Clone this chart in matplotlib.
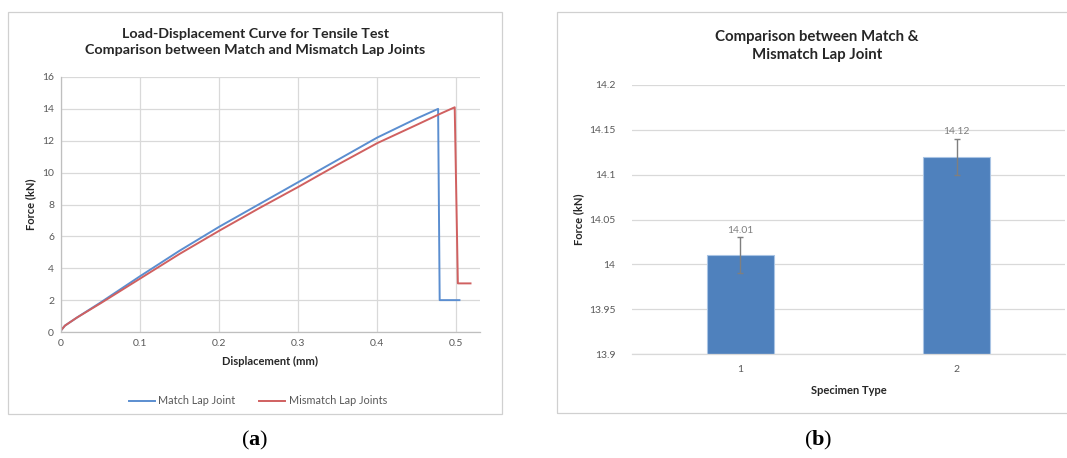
import matplotlib
matplotlib.use("Agg")
import matplotlib.pyplot as plt
from matplotlib.patches import Rectangle

plt.rcParams['font.family'] = ['Lato', 'DejaVu Sans']
plt.rcParams['mathtext.fontset'] = 'custom'
plt.rcParams['mathtext.bf'] = 'Liberation Serif:bold'
plt.rcParams['mathtext.rm'] = 'Liberation Serif'

# ---- Data (a) ----
match_x = [0, 0.005, 0.02, 0.05, 0.1, 0.15, 0.2, 0.25, 0.3, 0.35, 0.4, 0.45, 0.477, 0.479, 0.504]
match_y = [0.1, 0.4, 0.9, 1.85, 3.5, 5.1, 6.6, 8.0, 9.4, 10.8, 12.2, 13.4, 14.0, 2.0, 2.0]
mis_x = [0, 0.005, 0.02, 0.05, 0.1, 0.15, 0.2, 0.25, 0.3, 0.35, 0.4, 0.45, 0.48, 0.498, 0.502, 0.518]
mis_y = [0.1, 0.4, 0.9, 1.8, 3.35, 4.9, 6.35, 7.75, 9.1, 10.5, 11.85, 13.0, 13.7, 14.1, 3.05, 3.05]
xticks_a = [0, 0.1, 0.2, 0.3, 0.4, 0.5]
xticklabels_a = ['0', '0.1', '0.2', '0.3', '0.4', '0.5']
yticks_a = [0, 2, 4, 6, 8, 10, 12, 14, 16]

# ---- Data (b) ----
specimens = ['1', '2']
forces = [14.01, 14.12]
errors = [0.02, 0.02]
value_labels = ['14.01', '14.12']
yticks_b = [13.9, 13.95, 14.0, 14.05, 14.1, 14.15, 14.2]
yticklabels_b = ['13.9', '13.95', '14', '14.05', '14.1', '14.15', '14.2']

W, H = 1067, 458
fig = plt.figure(figsize=(W / 100, H / 100), dpi=100)

def fx(px):
    return px / W

def fy(py):
    return 1 - py / H

grid_c = '#D9D9D9'
text_c = '#595959'
blue_line = '#5B8ED0'
red_line = '#D06060'
bar_c = '#4F81BD'

# panel borders
fig.patches.append(Rectangle((fx(8), fy(414)), fx(502 - 8), (414 - 12) / H,
                             transform=fig.transFigure, fill=False,
                             edgecolor='#D0D0D0', linewidth=0.9))
fig.patches.append(Rectangle((fx(557), fy(413)), fx(1075 - 557), (413 - 12) / H,
                             transform=fig.transFigure, fill=False,
                             edgecolor='#D0D0D0', linewidth=0.9))

# ---- Panel (a) ----
ax1 = fig.add_axes([fx(61), fy(332), fx(480 - 61), (332 - 77) / H])
ax1.plot(match_x, match_y, color=blue_line, lw=1.4, label='Match Lap Joint')
ax1.plot(mis_x, mis_y, color=red_line, lw=1.4, label='Mismatch Lap Joints')
ax1.set_xlim(0, 0.53)
ax1.set_ylim(0, 16)
ax1.set_xticks(xticks_a)
ax1.set_xticklabels(xticklabels_a)
ax1.set_yticks(yticks_a)
ax1.grid(True, color=grid_c, lw=0.9)
ax1.set_axisbelow(True)
for s in ['top', 'right']:
    ax1.spines[s].set_visible(False)
for s in ['left', 'bottom']:
    ax1.spines[s].set_color('#BFBFBF')
    ax1.spines[s].set_linewidth(0.9)
ax1.tick_params(length=0, labelsize=7.5, labelcolor=text_c, pad=5)
ax1.set_xlabel('Displacement (mm)', fontsize=8, fontweight='bold', color='#262626', labelpad=6)
ax1.set_ylabel('Force (kN)', fontsize=8, fontweight='bold', color='#262626', labelpad=4)
fig.text(fx(255), fy(42), 'Load-Displacement Curve for Tensile Test\nComparison between Match and Mismatch Lap Joints',
         ha='center', va='center', fontsize=10.3, fontweight='bold', color='#262626', linespacing=1.35)
leg = ax1.legend(loc='upper center', bbox_to_anchor=(0.47, -0.21), ncol=2, frameon=False,
                 fontsize=7.8, handlelength=2.4, handletextpad=0.3, columnspacing=2.2)
for t in leg.get_texts():
    t.set_color(text_c)

# ---- Panel (b) ----
ax2 = fig.add_axes([fx(632), fy(354), fx(1065 - 632), (354 - 85) / H])
pos = [1, 2]
ax2.bar(pos, [f - 13.9 for f in forces], bottom=13.9, width=0.31, color=bar_c,
        edgecolor='#A9C4E4', linewidth=0.8, zorder=2)
ax2.errorbar(pos, forces, yerr=errors, fmt='none', ecolor='#7F7F7F', elinewidth=1.0,
             capsize=2.5, capthick=1.0, zorder=3)
for p, f, lab in zip(pos, forces, value_labels):
    ax2.annotate(lab, (p, f), xytext=(0, 18), textcoords='offset points',
                 ha='center', va='center', fontsize=7.5, color='#7F7F7F')
ax2.set_xlim(0.5, 2.5)
ax2.set_ylim(13.9, 14.2)
ax2.set_xticks(pos)
ax2.set_xticklabels(specimens)
ax2.set_yticks(yticks_b)
ax2.set_yticklabels(yticklabels_b)
ax2.yaxis.grid(True, color=grid_c, lw=0.9)
ax2.set_axisbelow(True)
for s in ['top', 'right', 'left']:
    ax2.spines[s].set_visible(False)
ax2.spines['bottom'].set_color(grid_c)
ax2.spines['bottom'].set_linewidth(0.9)
ax2.tick_params(length=0, labelsize=7.5, labelcolor=text_c, pad=8)
ax2.tick_params(axis='y', pad=12)
ax2.set_xlabel('Specimen Type', fontsize=8, fontweight='bold', color='#262626', labelpad=8)
ax2.set_ylabel('Force (kN)', fontsize=8, fontweight='bold', color='#262626', labelpad=3)
fig.text(fx(817), fy(46), 'Comparison between Match &\nMismatch Lap Joint',
         ha='center', va='center', fontsize=10.8, fontweight='bold', color='#262626', linespacing=1.4)

# captions
for xc, letter in [(255, 'a'), (818, 'b')]:
    fig.text(fx(xc), fy(440), '(' + r'$\mathbf{' + letter + '}$' + ')', ha='center', va='center',
             fontsize=16, family='Liberation Serif', color='black')

fig.savefig('out.png', dpi=100)
